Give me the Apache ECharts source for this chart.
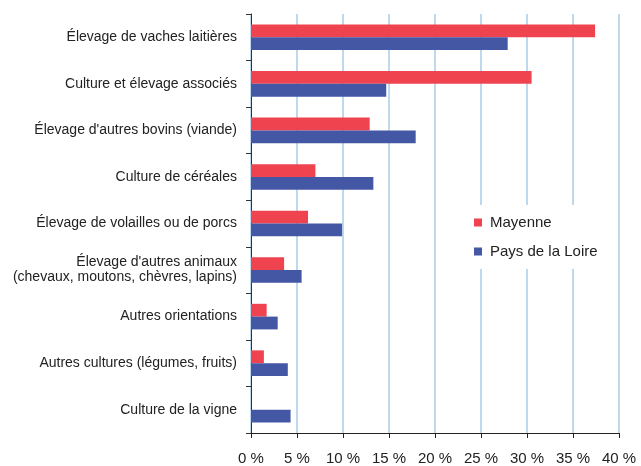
<!DOCTYPE html>
<html>
<head>
<meta charset="utf-8">
<script src="https://cdn.jsdelivr.net/npm/echarts@6/dist/echarts.min.js"></script>
<style>
  html, body { margin: 0; padding: 0; background: #fff; }
  #chart { width: 641px; height: 466px; }
</style>
</head>
<body>
<div id="chart"></div>
<script>
// orientations, du haut vers le bas
const categories = [
  'Élevage de vaches laitières',
  'Culture et élevage associés',
  "Élevage d'autres bovins (viande)",
  'Culture de céréales',
  'Élevage de volailles ou de porcs',
  "Élevage d'autres animaux\n(chevaux, moutons, chèvres, lapins)",
  'Autres orientations',
  'Autres cultures (légumes, fruits)',
  'Culture de la vigne'
]
const mayenne = [37.4, 30.5, 12.9, 7.0, 6.2, 3.6, 1.7, 1.4, 0]
const paysDeLaLoire = [27.9, 14.7, 17.9, 13.3, 9.9, 5.5, 2.9, 4.0, 4.3]
const xTicks = [0, 5, 10, 15, 20, 25, 30, 35, 40]

const myChart = echarts.init(document.getElementById('chart'))

myChart.setOption({
  animation: false,
  textStyle: { fontFamily: 'Liberation Sans, Arial, sans-serif' },
  grid: { left: 251, right: 22, top: 14, bottom: 32 },
  legend: {
    orient: 'vertical',
    left: 460,
    top: 205,
    padding: [10, 18, 10, 14],
    backgroundColor: '#fff',
    itemWidth: 8,
    itemHeight: 8,
    itemGap: 14,
    icon: 'rect',
    textStyle: { fontSize: 15, color: '#222', padding: [0, 0, 0, 3] },
    data: ['Mayenne', 'Pays de la Loire']
  },
  xAxis: {
    type: 'value',
    min: xTicks[0],
    max: xTicks[xTicks.length - 1],
    interval: 5,
    axisLine: { show: true, lineStyle: { color: '#222' } },
    axisTick: { show: true, length: 5, lineStyle: { color: '#222' } },
    axisLabel: { formatter: '{value} %', fontSize: 15, color: '#222', margin: 18 },
    splitLine: { show: true, lineStyle: { color: '#a9cbe8', width: 1.5 } }
  },
  yAxis: {
    type: 'category',
    inverse: true,
    data: categories,
    axisLine: { show: true, lineStyle: { color: '#333' } },
    axisTick: { show: true, length: 5, lineStyle: { color: '#333' } },
    axisLabel: { fontSize: 14, color: '#222', margin: 14, lineHeight: 15 }
  },
  series: [
    {
      name: 'Mayenne',
      type: 'bar',
      data: mayenne,
      barGap: '0%',
      barCategoryGap: '45%',
      itemStyle: { color: '#ef434f' },
      z: 3
    },
    {
      name: 'Pays de la Loire',
      type: 'bar',
      data: paysDeLaLoire,
      barGap: '0%',
      barCategoryGap: '45%',
      itemStyle: { color: '#4357a5' },
      z: 3
    }
  ]
})
</script>
</body>
</html>
